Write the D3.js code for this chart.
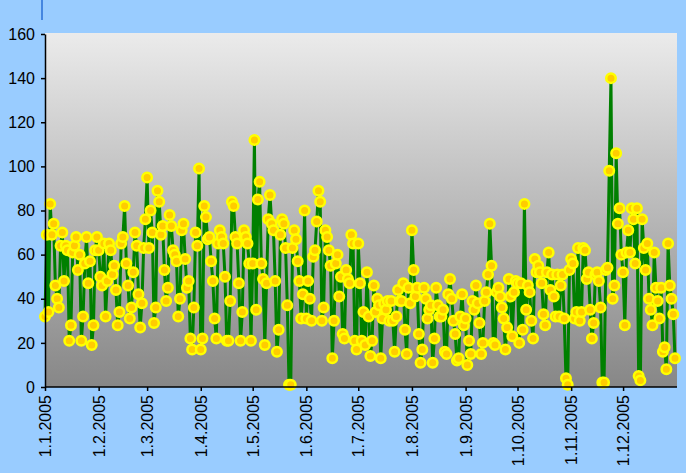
<!DOCTYPE html>
<html>
<head>
<meta charset="utf-8">
<script src="https://cdnjs.cloudflare.com/ajax/libs/d3/7.8.5/d3.min.js"></script>
<style>
body { margin: 0; background: #99ccff; }
svg { display: block; }
.axis text { font-family: "Liberation Sans", Arial, sans-serif; font-size: 16px; fill: #000; }
.axis path, .axis line { stroke: #000; stroke-width: 1.5; }
</style>
</head>
<body>
<svg width="686" height="473"></svg>
<script>
// daily values, 2005, one array per month
var jan = [32, 69, 34, 83, 69, 74, 46, 40, 36, 64, 70, 48, 64, 62, 21, 28, 61, 64, 68, 53, 60, 21, 32, 56, 68, 47, 57, 19, 28, 62, 68];
var feb = [62, 50, 46, 65, 32, 48, 65, 62, 51, 55, 44, 28, 34, 65, 68, 82, 56, 46, 31, 36, 52, 70, 64, 42, 27, 38, 63, 76];
var mar = [95, 63, 80, 70, 29, 36, 89, 84, 69, 73, 53, 39, 45, 78, 73, 62, 60, 57, 32, 40, 71, 74, 58, 45, 48, 22, 17, 36, 70, 64, 99];
var apr = [17, 22, 82, 77, 67, 68, 57, 48, 31, 22, 65, 71, 68, 65, 50, 21, 21, 39, 84, 82, 68, 65, 47, 21, 34, 71, 68, 65, 56, 21];
var may = [56, 112, 35, 85, 93, 56, 49, 19, 47, 76, 87, 74, 71, 48, 16, 26, 69, 76, 74, 63, 37, 1, 1, 63, 71, 67, 57, 48, 31, 42, 80];
var jun = [31, 48, 40, 30, 59, 62, 75, 89, 84, 30, 36, 71, 68, 62, 55, 13, 30, 56, 60, 41, 50, 24, 22, 53, 49, 47, 69, 65, 21, 17];
var jul = [65, 47, 21, 34, 19, 52, 32, 14, 21, 46, 34, 40, 37, 13, 31, 38, 35, 39, 30, 39, 30, 16, 32, 44, 39, 39, 47, 26, 15, 45, 38];
var aug = [71, 53, 41, 45, 24, 11, 17, 45, 40, 31, 35, 37, 11, 22, 45, 37, 32, 32, 35, 16, 15, 42, 49, 40, 30, 24, 12, 13, 32, 42, 28];
var sep = [31, 10, 21, 15, 39, 35, 46, 38, 29, 15, 20, 39, 43, 51, 74, 55, 20, 19, 43, 45, 41, 36, 31, 17, 27, 49, 41, 23, 43, 48];
var oct = [47, 20, 47, 26, 83, 35, 46, 43, 30, 22, 58, 52, 55, 52, 47, 33, 28, 52, 61, 44, 51, 41, 32, 51, 32, 46, 51, 31, 4, 1, 53];
var nov = [58, 56, 31, 34, 63, 30, 34, 63, 62, 49, 52, 35, 22, 29, 51, 52, 48, 36, 2, 2, 53, 54, 98, 140, 40, 46, 106, 74, 81, 60];
var dec = [52, 28, 61, 71, 61, 81, 76, 56, 81, 5, 3, 76, 63, 53, 65, 40, 35, 28, 61, 45, 39, 31, 45, 16, 18, 8, 65, 46, 40, 33, 13];

var yTicks = [0, 20, 40, 60, 80, 100, 120, 140, 160];

var values = [].concat(jan, feb, mar, apr, may, jun, jul, aug, sep, oct, nov, dec);
var start = Date.UTC(2005, 0, 1);
var data = values.map(function(v, i) {
	return {date: new Date(start + i * 864e5), value: v};
});

var svg = d3.select("svg");

var x = d3.scaleUtc()
	.domain([new Date(Date.UTC(2005, 0, 1)), new Date(Date.UTC(2005, 11, 31))])
	.range([45, 675]);
var y = d3.scaleLinear().domain([0, 160]).range([387, 34]);

// plot area gradient
var grad = svg.append("defs").append("linearGradient")
	.attr("id", "bg").attr("x1", 0).attr("y1", 0).attr("x2", 0).attr("y2", 1);
grad.append("stop").attr("offset", "0%").attr("stop-color", "#ebebeb");
grad.append("stop").attr("offset", "100%").attr("stop-color", "#878787");

svg.append("rect")
	.attr("x", 45).attr("y", 33)
	.attr("width", 632).attr("height", 354)
	.attr("fill", "url(#bg)");

// little blue line above the chart
svg.append("line")
	.attr("x1", 42).attr("x2", 42).attr("y1", 0).attr("y2", 20)
	.attr("stroke", "#2a6fd6").attr("stroke-width", 1.5);

var line = d3.line()
	.x(function(d) { return x(d.date); })
	.y(function(d) { return y(d.value); });

svg.append("path")
	.datum(data)
	.attr("d", line)
	.attr("fill", "none")
	.attr("stroke", "#008000")
	.attr("stroke-width", 3)
	.attr("stroke-linejoin", "round");

svg.append("g").selectAll("circle")
	.data(data)
	.enter()
	.append("circle")
	.attr("cx", function(d) { return x(d.date); })
	.attr("cy", function(d) { return y(d.value); })
	.attr("r", 4.75)
	.attr("fill", "#ffcc00")
	.attr("stroke", "#ffff00")
	.attr("stroke-width", 2.5);

svg.append("g")
	.attr("class", "axis")
	.attr("transform", "translate(45,0)")
	.call(d3.axisLeft(y).tickValues(yTicks).tickSize(4).tickSizeOuter(0).tickPadding(6));

var xAxis = svg.append("g")
	.attr("class", "axis")
	.attr("transform", "translate(0,387)")
	.call(d3.axisBottom(x)
		.ticks(d3.utcMonth.every(1))
		.tickFormat(d3.utcFormat("%-d.%-m.%Y"))
		.tickSize(4)
		.tickSizeOuter(0));

xAxis.select(".domain").attr("d", "M45,0H677");

xAxis.selectAll("text")
	.attr("transform", "rotate(-90)")
	.attr("text-anchor", "end")
	.attr("x", -8)
	.attr("y", 0)
	.attr("dy", "0.35em");
</script>
</body>
</html>
